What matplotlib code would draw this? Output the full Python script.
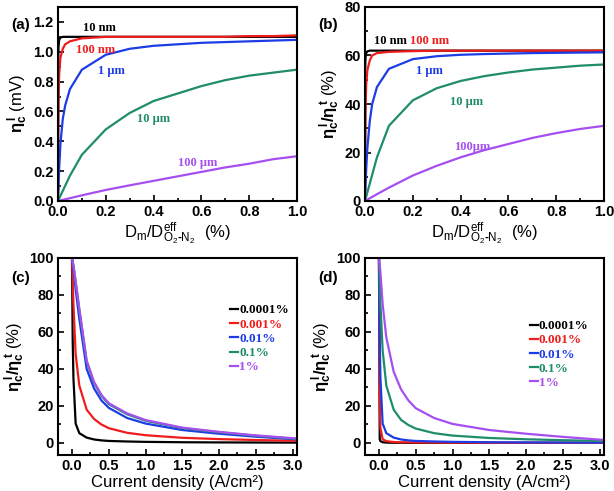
import matplotlib.pyplot as plt
from matplotlib.ticker import MultipleLocator

plt.rcParams['font.family'] = ['Liberation Sans', 'DejaVu Sans']
plt.rcParams['font.weight'] = 'bold'
plt.rcParams['mathtext.fontset'] = 'custom'
plt.rcParams['mathtext.rm'] = 'Liberation Sans:bold'
plt.rcParams['mathtext.it'] = 'Liberation Sans:bold'
plt.rcParams['mathtext.bf'] = 'Liberation Sans:bold'

c_black, c_red, c_blue, c_green, c_purple = 'black', '#f01c1c', '#1c3ce6', '#1f8c6c', '#a64ff0'
serif = ['Liberation Serif', 'DejaVu Serif']

# (a) eta_c^l (mV) vs Dm/Deff (%)
x_fine = [0, 0.001, 0.002, 0.005, 0.01, 0.02, 0.03, 0.05, 0.1, 0.2, 0.3, 0.4, 0.5, 0.6, 0.7, 0.8, 0.9, 1.0]
a_10nm = [0, 0.95, 1.03, 1.08, 1.095, 1.1, 1.1, 1.1, 1.1, 1.1, 1.1, 1.1, 1.1, 1.1, 1.1, 1.1, 1.1, 1.1]
a_100nm = [0, 0.45, 0.65, 0.85, 0.96, 1.02, 1.05, 1.07, 1.09, 1.1, 1.1, 1.1, 1.1, 1.1, 1.1, 1.105, 1.105, 1.11]
a_1um = [0, 0.05, 0.1, 0.22, 0.38, 0.55, 0.64, 0.75, 0.88, 0.98, 1.02, 1.04, 1.05, 1.06, 1.065, 1.07, 1.075, 1.08]
x_coarse = [0, 0.05, 0.1, 0.2, 0.3, 0.4, 0.5, 0.6, 0.7, 0.8, 0.9, 1.0]
a_10um = [0, 0.17, 0.31, 0.48, 0.59, 0.67, 0.72, 0.77, 0.81, 0.84, 0.86, 0.88]
a_100um = [0, 0.019, 0.038, 0.074, 0.105, 0.135, 0.165, 0.195, 0.225, 0.25, 0.28, 0.30]

# (b) eta_c^l / eta_c^t (%)
b_10nm = [0, 55, 59, 61, 61.7, 62, 62, 62, 62, 62, 62, 62, 62, 62, 62, 62, 62, 62]
b_100nm = [0, 25, 37, 48, 54, 58, 60, 61, 61.5, 61.8, 62, 62, 62, 62, 62, 62, 62, 62]
b_1um = [0, 3, 6, 13, 22, 33, 40, 47, 54.5, 58.5, 59.7, 60.3, 60.6, 60.8, 61, 61.1, 61.2, 61.3]
b_10um = [0, 18, 31, 41.5, 46.5, 49.5, 51.5, 53, 54.2, 55, 55.8, 56.3]
b_100um = [0, 2.8, 5.5, 10.5, 14.5, 18, 21, 23.5, 26, 28, 29.7, 31]

# (c), (d) ratio vs current density (A/cm2)
j = [0, 0.01, 0.02, 0.05, 0.1, 0.2, 0.3, 0.4, 0.5, 0.75, 1.0, 1.5, 2.0, 2.5, 3.0, 3.1]
c_0001 = [100, 55, 35, 10.5, 5.3, 2.9, 1.9, 1.4, 1.1, 0.8, 0.6, 0.4, 0.3, 0.25, 0.2, 0.2]
c_001 = [100, 88, 75, 48, 31, 18, 13, 10, 8, 5.5, 4.2, 2.8, 2.1, 1.6, 1.2, 1.1]
c_01 = [100, 97, 94, 83, 67, 40, 29.5, 23, 19, 13.5, 10.5, 7, 5, 3.4, 2.1, 1.8]
c_1 = [100, 98, 96, 87, 72, 44, 32.5, 25.5, 21, 15.5, 12, 8, 5.8, 3.9, 2.4, 2.1]
c_10 = [100, 98, 96, 87.5, 72.5, 44.5, 33, 26, 21.5, 16, 12.4, 8.3, 6, 4.1, 2.6, 2.3]

d_0001 = [100, 2, 1, 0.4, 0.2, 0.1, 0.1, 0.05, 0.05, 0.05, 0.05, 0.05, 0.05, 0.05, 0.05, 0.05]
d_001 = [100, 20, 8, 2, 1, 0.5, 0.35, 0.3, 0.25, 0.2, 0.15, 0.1, 0.1, 0.1, 0.1, 0.1]
d_01 = [100, 55, 35, 10.5, 5.3, 2.9, 1.9, 1.4, 1.1, 0.8, 0.6, 0.4, 0.3, 0.25, 0.2, 0.2]
d_1 = [100, 88, 75, 50, 31, 18, 12.5, 9.7, 7.8, 5.3, 4, 2.7, 2, 1.5, 1.1, 1]
d_10 = [100, 96, 92, 75, 57, 38.5, 29, 23, 18.8, 13.5, 10.3, 7, 5, 3.3, 1.8, 1.6]

leg_labels = ['0.0001%', '0.001%', '0.01%', '0.1%', '1%']
colors = [c_black, c_red, c_blue, c_green, c_purple]

fig = plt.figure(figsize=(6.14, 4.91), dpi=100)
W, H = 614, 491


def add_ax(l, t, r, b):
    return fig.add_axes([l / W, 1 - b / H, (r - l) / W, (b - t) / H])


def style(ax):
    for s in ax.spines.values():
        s.set_linewidth(1.5)
    ax.tick_params(which='both', direction='in', width=1.2, labelsize=10.5, top=False, right=False, pad=3)
    ax.tick_params(which='major', length=4)
    ax.tick_params(which='minor', length=2.5)
    for lab in ax.get_xticklabels() + ax.get_yticklabels():
        lab.set_fontweight('bold')


xlab_d = r'$\mathregular{D_m/D^{eff}_{O_2\text{-}N_2}}$  (%)'
ylab_ratio = r'$\eta_c^{\,l}/\eta_c^{\,t}$ (%)'
lw = 1.6

ax_a = add_ax(58, 7, 297, 201)
ax_b = add_ax(365, 7, 604, 201)
ax_c = add_ax(58, 258, 297, 455)
ax_d = add_ax(365, 258, 604, 455)

# panel (a)
ax_a.plot(x_fine, a_10nm, color=c_black, lw=lw)
ax_a.plot(x_fine, a_100nm, color=c_red, lw=lw)
ax_a.plot(x_fine, a_1um, color=c_blue, lw=lw)
ax_a.plot(x_coarse, a_10um, color=c_green, lw=lw)
ax_a.plot(x_coarse, a_100um, color=c_purple, lw=lw)
ax_a.set_xlim(0, 1)
ax_a.set_ylim(0, 1.3)
ax_a.xaxis.set_major_locator(MultipleLocator(0.2))
ax_a.xaxis.set_minor_locator(MultipleLocator(0.1))
ax_a.yaxis.set_major_locator(MultipleLocator(0.2))
ax_a.yaxis.set_minor_locator(MultipleLocator(0.1))
ax_a.set_ylabel(r'$\eta_c^{\,l}$ (mV)', fontsize=12, labelpad=2)
ax_a.set_xlabel(xlab_d, fontsize=12, labelpad=1)
for txt, x, y, col in [('10 nm', 0.105, 1.157, c_black), ('100 nm', 0.075, 1.01, c_red),
                       ('1 μm', 0.166, 0.87, c_blue), ('10 μm', 0.33, 0.552, c_green),
                       ('100 μm', 0.50, 0.255, c_purple)]:
    ax_a.text(x, y, txt, color=col, family=serif, fontweight='bold', fontsize=9, va='center')

# panel (b)
ax_b.plot(x_fine, b_10nm, color=c_black, lw=lw)
ax_b.plot(x_fine, b_100nm, color=c_red, lw=lw)
ax_b.plot(x_fine, b_1um, color=c_blue, lw=lw)
ax_b.plot(x_coarse, b_10um, color=c_green, lw=lw)
ax_b.plot(x_coarse, b_100um, color=c_purple, lw=lw)
ax_b.set_xlim(0, 1)
ax_b.set_ylim(0, 80)
ax_b.xaxis.set_major_locator(MultipleLocator(0.2))
ax_b.xaxis.set_minor_locator(MultipleLocator(0.1))
ax_b.yaxis.set_major_locator(MultipleLocator(20))
ax_b.yaxis.set_minor_locator(MultipleLocator(10))
ax_b.set_ylabel(ylab_ratio, fontsize=12, labelpad=2)
ax_b.set_xlabel(xlab_d, fontsize=12, labelpad=1)
for txt, x, y, col in [('10 nm', 0.036, 65.8, c_black), ('100 nm', 0.19, 65.8, c_red),
                       ('1 μm', 0.213, 53.8, c_blue), ('10 μm', 0.356, 41, c_green),
                       ('100μm', 0.371, 22.4, c_purple)]:
    ax_b.text(x, y, txt, color=col, family=serif, fontweight='bold', fontsize=9, va='center')

# panels (c), (d)
for ax, series, anchor in [(ax_c, [c_0001, c_001, c_01, c_1, c_10], (2.15, 75)),
                           (ax_d, [d_0001, d_001, d_01, d_1, d_10], (2.05, 66.5))]:
    for ys, col, lab in zip(series, colors, leg_labels):
        ax.plot(j, ys, color=col, lw=lw, label=lab)
    ax.set_xlim(-0.19, 3.06)
    ax.set_ylim(-6.5, 100)
    ax.xaxis.set_major_locator(MultipleLocator(0.5))
    ax.xaxis.set_minor_locator(MultipleLocator(0.25))
    ax.yaxis.set_major_locator(MultipleLocator(20))
    ax.yaxis.set_minor_locator(MultipleLocator(10))
    ax.set_ylabel(ylab_ratio, fontsize=12, labelpad=2)
    ax.set_xlabel('Current density (A/cm²)', fontsize=12, labelpad=1)
    ax.legend(loc='upper left', bbox_to_anchor=anchor, bbox_transform=ax.transData,
              frameon=False, handlelength=0.6, handletextpad=0.1, labelspacing=0.15,
              borderpad=0, borderaxespad=0, labelcolor='linecolor',
              prop={'family': serif, 'weight': 'bold', 'size': 9.5})

for ax in [ax_a, ax_b, ax_c, ax_d]:
    style(ax)

for lab, x, y in [('(a)', 21, 25), ('(b)', 328, 25), ('(c)', 21, 278), ('(d)', 328, 278)]:
    fig.text(x / W, 1 - y / H, lab, fontsize=11, fontweight='bold', ha='center', va='center')

fig.savefig('out.png', dpi=100)
